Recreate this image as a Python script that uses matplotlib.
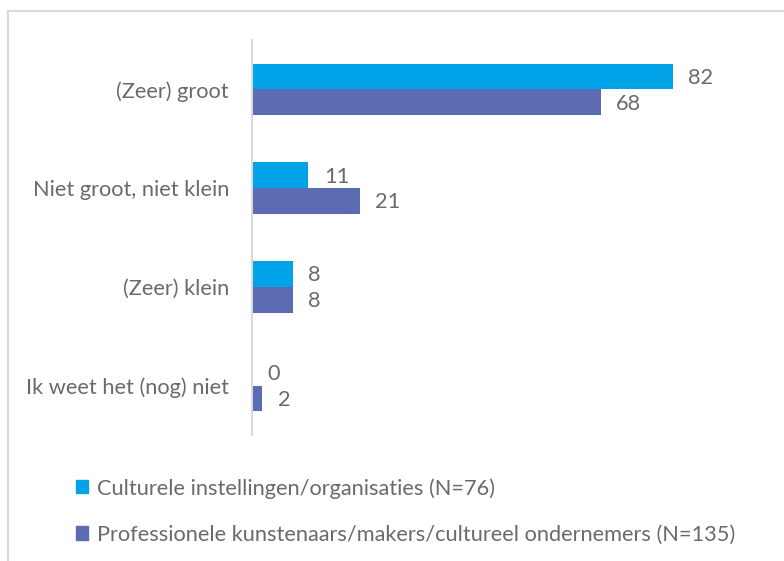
import matplotlib
matplotlib.use("Agg")
import matplotlib.pyplot as plt
from matplotlib.patches import Patch
from matplotlib.lines import Line2D
import numpy as np

categories = ["(Zeer) groot", "Niet groot, niet klein", "(Zeer) klein", "Ik weet het (nog) niet"]
instellingen = [82, 11, 8, 0]
makers = [68, 21, 8, 2]
series_labels = ["Culturele instellingen/organisaties (N=76)",
                 "Professionele kunstenaars/makers/cultureel ondernemers (N=135)"]

c1 = "#00A2E8"
c2 = "#5B6BB4"
tc = "#6a6a6a"
plt.rcParams['font.family'] = ['Lato', 'DejaVu Sans']
FS = 15.65
FW = 'normal'

W, H = 784, 561
fig = plt.figure(figsize=(W/100, H/100), dpi=100)
ax = fig.add_axes([252/W, 1-435/H, (765-252)/W, (435-40)/H])

y = np.arange(len(categories))
h = 0.26
ax.barh(y - h/2, instellingen, height=h, color=c1)
ax.barh(y + h/2, makers, height=h, color=c2)

for yi, v in zip(y, instellingen):
    ax.annotate(str(v), (v, yi - h/2), xytext=(11, -1), textcoords='offset points',
                va='center', ha='left', fontsize=FS, color=tc, fontweight=FW)
for yi, v in zip(y, makers):
    ax.annotate(str(v), (v, yi + h/2), xytext=(11, -1), textcoords='offset points',
                va='center', ha='left', fontsize=FS, color=tc, fontweight=FW)

ax.set_xlim(0, 100)
ax.set_ylim(len(categories) - 0.5, -0.5)
ax.set_yticks(y)
ax.set_yticklabels(categories, fontsize=FS, color=tc, fontweight=FW)
ax.tick_params(axis='y', length=0, pad=16.5)
ax.set_xticks([])
for s in ['top', 'right', 'bottom']:
    ax.spines[s].set_visible(False)
ax.spines['left'].set_color('#d9d9d9')
ax.spines['left'].set_linewidth(1.5)

handles = [Patch(color=c1), Patch(color=c2)]
leg = fig.legend(handles, series_labels, loc='upper left', bbox_to_anchor=(76/W, 1-478/H),
                 frameon=False, handlelength=0.55, handleheight=0.55, handletextpad=0.4,
                 labelspacing=1.2, borderaxespad=0, borderpad=0, fontsize=FS)
for t in leg.get_texts():
    t.set_color(tc)
    t.set_fontweight(FW)

# outer frame (top and left)
fig.add_artist(Line2D([8/W, 8/W], [0, 1-11/H], color='#d9d9d9', lw=1.5, transform=fig.transFigure))
fig.add_artist(Line2D([8/W, 1], [1-11/H, 1-11/H], color='#d9d9d9', lw=1.5, transform=fig.transFigure))

fig.savefig("out.png", dpi=100)
